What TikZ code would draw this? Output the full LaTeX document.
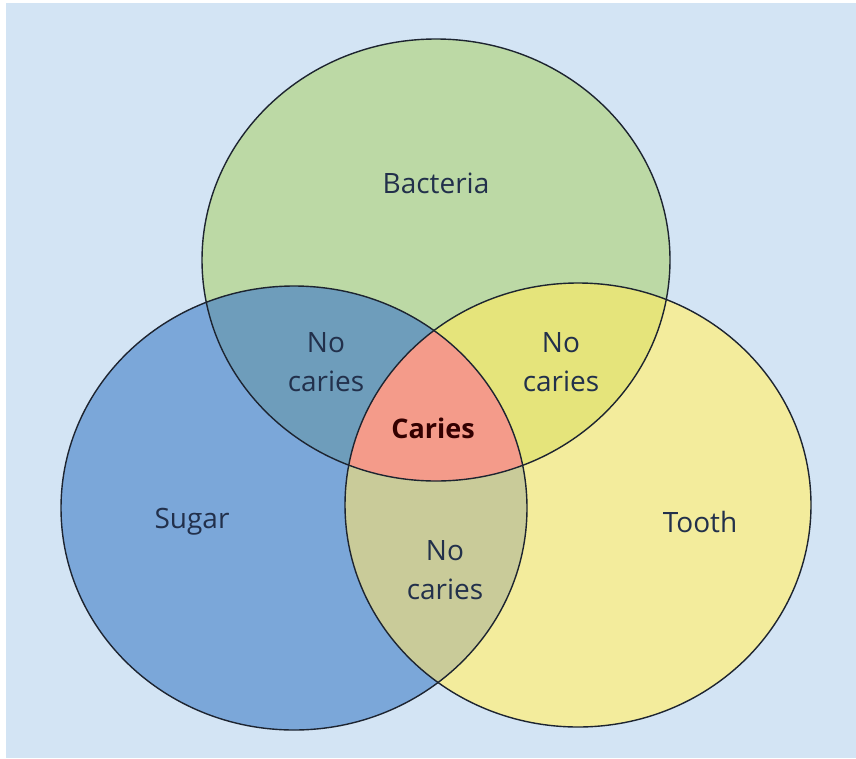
\documentclass[tikz,border=0pt]{standalone}
\usepackage{fontspec}
\setmainfont{Open Sans}
\usepackage{tikz}
\usetikzlibrary{positioning}
\definecolor{bgcolor}{HTML}{D3E4F4}
\definecolor{bactcolor}{HTML}{BCD9A5}
\definecolor{sugarcolor}{HTML}{7BA7D9}
\definecolor{toothcolor}{HTML}{F3EC9C}
\definecolor{bsoverlap}{HTML}{6E9DBB}
\definecolor{btoverlap}{HTML}{E5E47B}
\definecolor{stoverlap}{HTML}{C9CB99}
\definecolor{cariescolor}{HTML}{F49B8A}
\definecolor{rimcolor}{HTML}{1D2430}
\definecolor{labelcolor}{HTML}{22304B}

\begin{document}
\begin{tikzpicture}[x=1pt, y=-1pt,
    set rim/.style={draw=rimcolor, line width=1.4pt},
    set label/.style={font=\fontsize{28}{39}\selectfont, text=labelcolor, align=center, inner sep=0pt},
    core label/.style={set label, font=\fontsize{27}{39}\selectfont\bfseries, text=black!80!red},
]

    % ── Canvas ──
    \useasboundingbox (0,0) rectangle (856,758);
    \fill[bgcolor] (6,3) rectangle (856,758);

    \coordinate (bactc) at (436,260);
    \coordinate (sugarc) at (294,508);
    \coordinate (toothc) at (578,505);

    \def\bactpath{(bactc) ellipse [x radius=234pt, y radius=221pt]}
    \def\sugarpath{(sugarc) ellipse [x radius=233pt, y radius=222pt]}
    \def\toothpath{(toothc) ellipse [x radius=233pt, y radius=222pt]}

    % ── Sets ──
    \fill[bactcolor] \bactpath;
    \fill[sugarcolor] \sugarpath;
    \fill[toothcolor] \toothpath;

    % ── Overlaps ──
    \begin{scope}
        \clip \bactpath;
        \fill[bsoverlap] \sugarpath;
        \fill[btoverlap] \toothpath;
    \end{scope}
    \begin{scope}
        \clip \sugarpath;
        \fill[stoverlap] \toothpath;
        \clip \toothpath;
        \fill[cariescolor] \bactpath;
    \end{scope}

    \draw[set rim] \bactpath;
    \draw[set rim] \sugarpath;
    \draw[set rim] \toothpath;

    % ── Labels ──
    \node[set label] (bacteria) at (436,183) {Bacteria};
    \node[set label] (sugar) at (192,522) {Sugar};
    \node[set label] (tooth) at (700,522) {Tooth};
    \node[set label] (nobs) at (326,362) {No\\caries};
    \node[set label] (nobt) at (561,362) {No\\caries};
    \node[set label] (nost) at (445,570) {No\\caries};
    \node[core label] (caries) at (433,428) {Caries};

\end{tikzpicture}
\end{document}
